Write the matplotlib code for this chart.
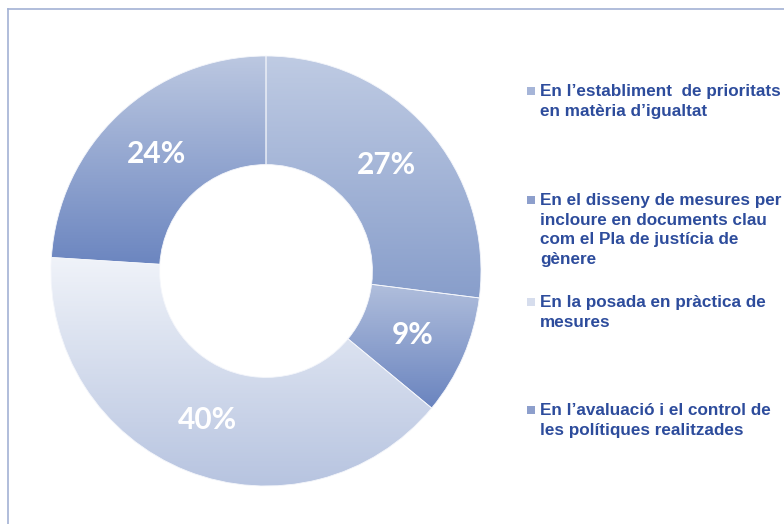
import numpy as np
import matplotlib
matplotlib.use("Agg")
from matplotlib import pyplot as plt
from matplotlib.colors import LinearSegmentedColormap
from matplotlib.lines import Line2D
from matplotlib.patches import Rectangle

# Dades del gràfic
categories = [
    "En l\u2019establiment  de prioritats\nen matèria d\u2019igualtat",
    "En el disseny de mesures per\nincloure en documents clau\ncom el Pla de justícia de\ngènere",
    "En la posada en pràctica de\nmesures",
    "En l\u2019avaluació i el control de\nles polítiques realitzades",
]
values = [27, 9, 40, 24]

# colors de degradat (dalt, baix) per a cada sector
grad_top = ["#bfcbe3", "#b0bedc", "#f0f3f9", "#bcc8e1"]
grad_bottom = ["#889ecb", "#6a84bf", "#b7c4e0", "#6c86c0"]
legend_colors = ["#a6b5d8", "#8d9fcc", "#d6dded", "#8d9fcc"]
text_color = "#2d4c9c"

W, H = 784, 524
fig = plt.figure(figsize=(W / 100, H / 100), dpi=100)
fig.patch.set_facecolor("white")

# marc fi a l'esquerra i a dalt
fig.add_artist(Line2D([8 / W, 8 / W], [0, 1 - 9 / H], color="#a3b2d4", lw=1.2))
fig.add_artist(Line2D([8 / W, 1], [1 - 9 / H, 1 - 9 / H], color="#a3b2d4", lw=1.2))

# eix del donut: centre (266, 271), radi 215 px
cx, cy, r = 266, 271, 215
ax = fig.add_axes([(cx - r) / W, (H - cy - r) / H, 2 * r / W, 2 * r / H])
wedges, _, autotexts = ax.pie(
    values, startangle=90, counterclock=False, radius=1,
    autopct="%d%%", pctdistance=0.745,
    wedgeprops=dict(width=0.505, edgecolor="#f4f6fb", linewidth=0.6),
    textprops=dict(color="white", fontsize=21.5, fontweight="bold", family="Lato"),
)
ax.set_xlim(-1, 1)
ax.set_ylim(-1, 1)
ax.axis("off")
fig.canvas.draw()

# omplim cada sector amb un degradat vertical
grad = np.linspace(0, 1, 256).reshape(-1, 1)
for w, top, bot in zip(wedges, grad_top, grad_bottom):
    w.set_facecolor("none")
    bb = w.get_window_extent().transformed(ax.transData.inverted())
    cmap = LinearSegmentedColormap.from_list("g", [top, bot])
    im = ax.imshow(grad, cmap=cmap, aspect="auto", origin="upper",
                   extent=[bb.x0, bb.x1, bb.y0, bb.y1], zorder=0.5,
                   interpolation="bilinear")
    im.set_clip_path(w)
ax.set_xlim(-1, 1)
ax.set_ylim(-1, 1)
for t in autotexts:
    t.set_zorder(3)

# llegenda manual a la dreta
legend_y = [91, 200, 302, 410]
for label, col, y in zip(categories, legend_colors, legend_y):
    fig.add_artist(Rectangle((527 / W, (H - y - 4) / H), 8 / W, 8 / H,
                             facecolor=col, edgecolor="none",
                             transform=fig.transFigure))
    fig.text(540 / W, (H - y + 7) / H, label, color=text_color,
             fontsize=12.3, fontweight="bold", family="Liberation Sans",
             va="top", ha="left", linespacing=1.38)

fig.savefig("out.png", dpi=100, facecolor="white")
